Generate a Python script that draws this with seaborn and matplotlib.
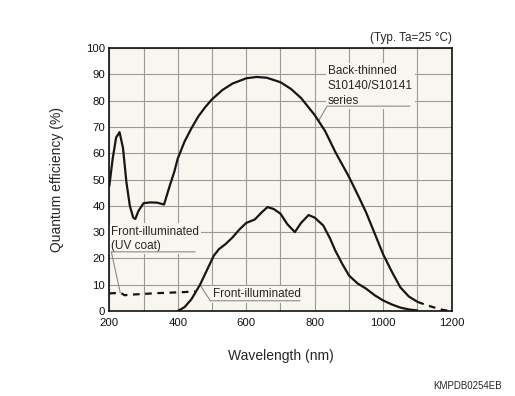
import matplotlib
matplotlib.use("Agg")
import matplotlib.pyplot as plt
import seaborn as sns

# Back-thinned S10140/S10141 series (solid part, then dashed tail)
wl_back = [200, 210, 220, 230, 240, 250, 260, 270, 276, 285, 300, 320, 340, 360,
           375, 390, 400, 420, 440, 460, 480, 500, 530, 560, 600, 630, 660, 700,
           730, 760, 800, 830, 860, 900, 930, 950, 975, 1000, 1025, 1050, 1075, 1100]
qe_back = [47.5, 58, 66, 68, 62, 49, 40, 35.5, 35, 38, 41, 41.3, 41.2, 40.5,
           47, 53, 58, 64.5, 69.5, 74, 77.5, 80.5, 84, 86.5, 88.5, 89, 88.7, 87,
           84.5, 81, 74.5, 68.5, 60.5, 51, 43, 37.5, 29.5, 21.5, 15, 9, 5.5, 3.5]
wl_back_tail = [1100, 1125, 1150, 1175, 1200]
qe_back_tail = [3.5, 2.3, 1.3, 0.4, 0]

# Front-illuminated
wl_front = [400, 420, 440, 465, 485, 505, 520, 540, 560, 580, 600, 625, 645, 662,
            680, 700, 720, 742, 760, 782, 800, 825, 845, 860, 880, 900, 925, 950,
            975, 1000, 1025, 1050, 1075, 1100]
qe_front = [0, 1.5, 4.5, 10, 15.5, 21, 23.5, 25.5, 28, 31, 33.5, 34.8, 37.5, 39.5,
            38.8, 37, 33, 30, 33.5, 36.5, 35.5, 32.5, 27.5, 23, 18, 13.5, 10.5, 8.5,
            6, 4, 2.5, 1.3, 0.6, 0.2]

# Front-illuminated (UV coat)
wl_uv = [200, 215, 232, 245, 260, 300, 340, 380, 420, 450]
qe_uv = [6.7, 6.8, 7.0, 6.0, 6.2, 6.5, 6.8, 7.0, 7.2, 7.5]

x_ticks = [200, 400, 600, 800, 1000, 1200]
y_ticks = list(range(0, 101, 10))

bg = "#f8f6ef"
ink = "#1a1414"
lead = "#8a8a8a"

sns.set_theme(style="white")
plt.rcParams["font.family"] = ["Liberation Sans", "DejaVu Sans"]

fig = plt.figure(figsize=(5.15, 3.96), dpi=100)
ax = fig.add_axes([0.2122, 0.2146, 0.6649, 0.6641])
ax.set_facecolor(bg)

sns.lineplot(x=wl_back, y=qe_back, ax=ax, color=ink, lw=1.6, sort=False, zorder=3)
sns.lineplot(x=wl_back_tail, y=qe_back_tail, ax=ax, color=ink, lw=1.6,
             linestyle=(0, (3, 2.5)), sort=False, zorder=3)
sns.lineplot(x=wl_front, y=qe_front, ax=ax, color=ink, lw=1.6, sort=False, zorder=3)
sns.lineplot(x=wl_uv, y=qe_uv, ax=ax, color=ink, lw=1.6,
             linestyle=(0, (3, 2.5)), sort=False, zorder=3)

ax.set_xlim(200, 1200)
ax.set_ylim(0, 100)
ax.set_xticks(x_ticks)
ax.set_xticks(range(200, 1201, 100), minor=True)
ax.set_yticks(y_ticks)
ax.grid(True, which="both", color="#9a9a9a", lw=0.8, zorder=0)
ax.set_axisbelow(True)
ax.tick_params(axis="both", which="both", length=0, labelsize=8.2, colors="#111111")
ax.tick_params(axis="x", pad=5)
ax.tick_params(axis="y", pad=3)
for s in ax.spines.values():
    s.set_color("#111111")
    s.set_linewidth(1.2)

ax.set_xlabel("Wavelength (nm)", fontsize=10, labelpad=15)
ax.set_ylabel("Quantum efficiency (%)", fontsize=10, labelpad=16)

box = dict(facecolor=bg, edgecolor="none", pad=1.5)

# labels with leader lines
ax.text(838, 85.5, "Back-thinned\nS10140/S10141\nseries", fontsize=8.5, va="center",
        ha="left", linespacing=1.3, bbox=box, zorder=2)
ax.plot([1078, 836, 810], [77.9, 77.9, 72.0], color=lead, lw=0.8, zorder=2)

ax.text(206, 27.4, "Front-illuminated\n(UV coat)", fontsize=8.5, va="center",
        ha="left", linespacing=1.3, bbox=box, zorder=2)
ax.plot([451, 206, 232], [22.5, 22.5, 6.9], color=lead, lw=0.8, zorder=2)

ax.text(503, 6.3, "Front-illuminated", fontsize=8.5, va="center", ha="left",
        bbox=box, zorder=2)
ax.plot([757, 495, 465], [3.9, 3.9, 9.9], color=lead, lw=0.8, zorder=2)

ax.text(1.0, 1.015, "(Typ. Ta=25 °C)", transform=ax.transAxes, ha="right",
        va="bottom", fontsize=8.5)
fig.text(0.975, 0.025, "KMPDB0254EB", ha="right", va="center", fontsize=7)

fig.savefig("out.png", dpi=100, facecolor="white")
